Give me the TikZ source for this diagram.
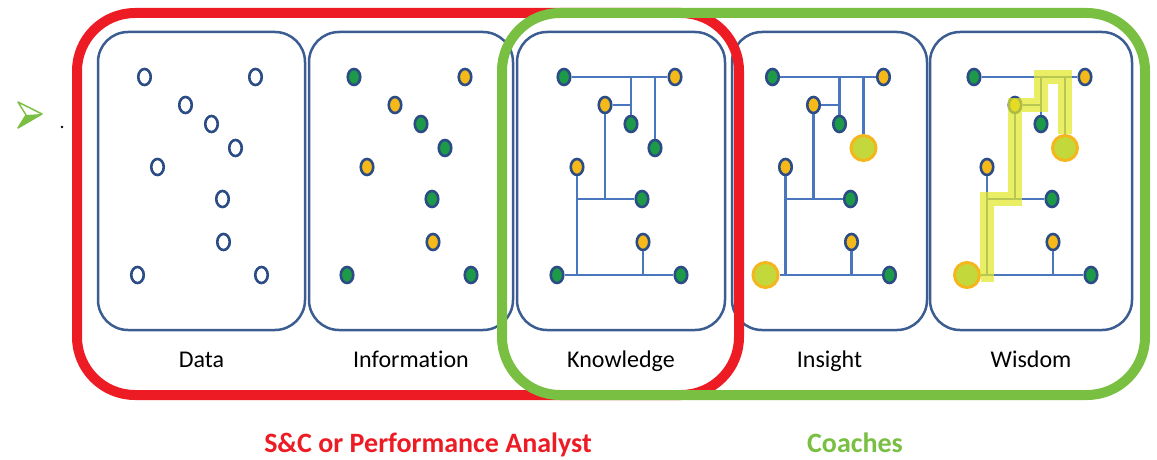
\documentclass[tikz,border=0pt]{standalone}
\usepackage{fontspec}
\setmainfont{Carlito}[Ligatures=NoCommon]
\usepackage{tikz}
\usetikzlibrary{shapes.geometric}

\definecolor{panelblue}{HTML}{3B5D91}
\definecolor{linkblue}{HTML}{4A76BE}
\definecolor{ringblue}{HTML}{2C4C86}
\definecolor{dotgreen}{HTML}{1D9A48}
\definecolor{dotgold}{HTML}{F6B91A}
\definecolor{limefill}{HTML}{C3D93B}
\definecolor{ringgold}{HTML}{F5B51C}
\definecolor{glowyellow}{HTML}{E0E82A}
\definecolor{framered}{HTML}{ED1C24}
\definecolor{framegreen}{HTML}{79BF42}

\tikzset{
	panel/.style={draw=panelblue, line width=2.5pt, rounded corners=30pt, minimum height=298pt, inner sep=0pt},
	hollow/.style={ellipse, draw=ringblue, line width=2.6pt, fill=white, minimum width=12.5pt, minimum height=16pt, inner sep=0pt},
	gdot/.style={hollow, fill=dotgreen},
	ydot/.style={hollow, fill=dotgold},
	hub/.style={gdot},
	bigdot/.style={circle, draw=ringgold, line width=3pt, fill=limefill, minimum size=25pt, inner sep=0pt},
	link/.style={draw=linkblue, line width=2.4pt},
	glow/.style={draw=glowyellow, line width=14pt, opacity=0.72},
	roleframe/.style={line width=10pt, rounded corners=58pt},
	panellabel/.style={font=\fontsize{24}{28}\selectfont, anchor=base},
	rolelabel/.style={font=\bfseries\fontsize{28}{32}\selectfont, anchor=base},
}

\begin{document}
\begin{tikzpicture}[x=1pt, y=-1pt]
	\useasboundingbox (0,0) rectangle (1157,460);

	% bullet
	\draw[framegreen, line width=1.4pt, line join=round] (18,102) -- (42,114) -- (18,128) -- (26,115) -- cycle;
	\fill[framegreen] (42,114) -- (18,128) -- (26,115) -- cycle;
	\fill (62,127) circle (1.4pt);

	% five stages, same points in each
	\foreach \p/\cx/\w/\lab in {1/201.5/207/Data, 2/411/204/Information, 3/621/208/Knowledge, 4/829.5/195/Insight, 5/1031/202/Wisdom}{
		\begin{scope}[shift={(\cx,181)}]
			\ifnum\p=1 \tikzset{gdot/.style={hollow}, ydot/.style={hollow}}\fi
			\ifnum\p>3 \tikzset{hub/.style={bigdot}}\fi
			\node[panel, minimum width=\w pt] (box\p) at (0,0) {};
			\node[panellabel] (lab\p) at (0,186) {\lab};
			\foreach \i/\dx/\dy/\kind in {1/-57/-104/gdot, 2/54/-104/ydot, 3/-16/-76/ydot, 4/10/-57/gdot, 5/34/-33/hub,
				6/-44/-14/ydot, 7/21/18/gdot, 8/22/61/ydot, 9/-64/94/hub, 10/60/94/gdot}
				\node[\kind] (n\p-\i) at (\dx,\dy) {};
			\ifnum\p>2
				\draw[link] (n\p-1) -- (n\p-2);
				\draw[link] (n\p-4) -- (n\p-4 |- n\p-1);
				\draw[link] (n\p-5) -- (n\p-5 |- n\p-1);
				\draw[link] (n\p-3) -- (n\p-3 -| n\p-4);
				\draw[link] (n\p-3) -- (n\p-3 |- n\p-7);
				\draw[link] (n\p-6 |- n\p-7) -- (n\p-7);
				\draw[link] (n\p-6) -- (n\p-6 |- n\p-9);
				\draw[link] (n\p-9) -- (n\p-10);
				\draw[link] (n\p-8) -- (n\p-8 |- n\p-10);
			\fi
			\ifnum\p=5
				\draw[glow] (n\p-9) -| (n\p-6 |- n\p-7) -| (n\p-3.center) -| (n\p-4 |- n\p-1) -| (n\p-5);
			\fi
		\end{scope}
	}

	\draw[roleframe, framered] (77,13) rectangle (739,395);
	\draw[roleframe, framegreen] (502,13) rectangle (1145,395);

	\node[rolelabel, text=framered] (analyst) at (428,452) {S\&C or Performance Analyst};
	\node[rolelabel, text=framegreen] (coaches) at (855,452) {Coaches};
\end{tikzpicture}
\end{document}
